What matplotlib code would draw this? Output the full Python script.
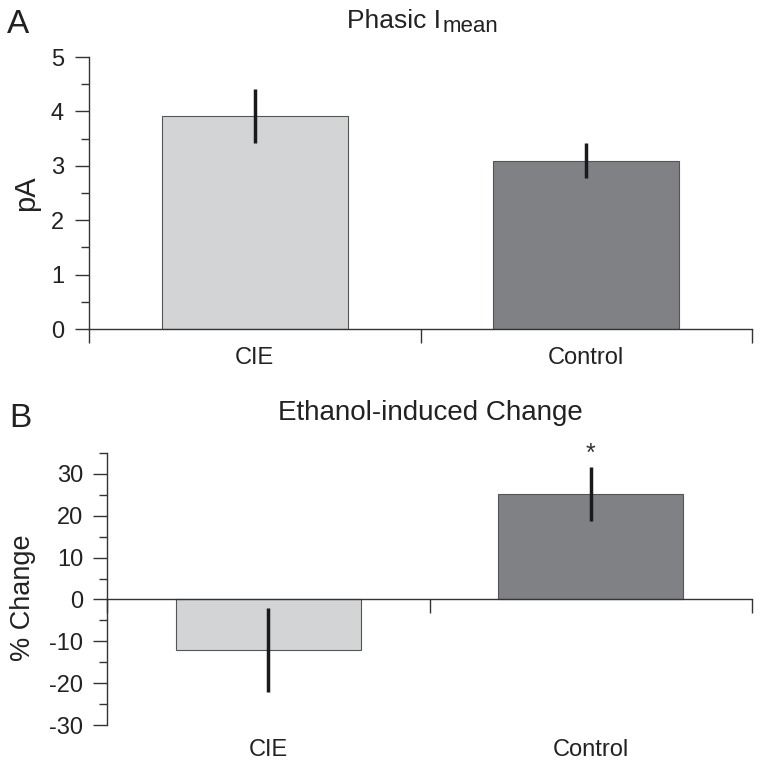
import matplotlib.pyplot as plt
from matplotlib.ticker import MultipleLocator

plt.rcParams['font.family'] = ['Liberation Sans', 'DejaVu Sans']
plt.rcParams['axes.unicode_minus'] = False

groups = ['CIE', 'Control']
phasic_mean = [3.92, 3.09]
phasic_sem = [0.50, 0.32]
change_mean = [-12.0, 25.2]
change_sem = [10.0, 6.4]
bar_colors = ['#d3d4d6', '#808184']

fig = plt.figure(figsize=(7.62, 7.66), dpi=100)
axA = fig.add_axes([89/762, 1 - 329/766, 663/762, 272/766])
axB = fig.add_axes([107/762, 1 - 725/766, 645/762, 272/766])

pos = [0.5, 1.5]


def style(ax, ymin, ymax, major, minor, ypad, lab_off):
    ax.set_xlim(0, 2)
    ax.set_ylim(ymin, ymax)
    for s in ['top', 'right']:
        ax.spines[s].set_visible(False)
    ax.spines['left'].set_linewidth(1.0)
    ax.spines['left'].set_color('#333333')
    ax.spines['bottom'].set_linewidth(1.0)
    ax.spines['bottom'].set_color('#333333')
    ax.spines['bottom'].set_position(('data', 0))
    ax.yaxis.set_major_locator(MultipleLocator(major))
    ax.yaxis.set_minor_locator(MultipleLocator(minor))
    ax.tick_params(axis='y', which='major', length=10, width=1.0, color='#333333',
                   labelsize=17, pad=ypad, labelcolor='#222222')
    ax.tick_params(axis='y', which='minor', length=6, width=1.0, color='#333333')
    ax.set_xticks([0, 1, 2])
    ax.set_xticklabels([])
    ax.tick_params(axis='x', which='major', length=10, width=1.0, color='#333333')
    for x, g in zip(pos, groups):
        ax.annotate(g, xy=(x, 0), xycoords=ax.get_xaxis_transform(),
                    xytext=(0, lab_off), textcoords='offset points',
                    ha='center', va='top', fontsize=17, color='#222222')


axA.bar(pos, phasic_mean, width=0.56, color=bar_colors, edgecolor='#555555',
        linewidth=0.8, zorder=2)
axA.errorbar(pos, phasic_mean, yerr=phasic_sem, fmt='none', ecolor='#1a1a1a',
             elinewidth=2.5, capsize=0, zorder=3)
style(axA, 0, 5, 1, 0.5, 8, -13)

axB.bar(pos, change_mean, width=0.575, color=bar_colors, edgecolor='#555555',
        linewidth=0.8, zorder=2)
axB.errorbar(pos, change_mean, yerr=change_sem, fmt='none', ecolor='#1a1a1a',
             elinewidth=2.5, capsize=0, zorder=3)
style(axB, -30, 35, 10, 5, 7, -10)
axB.set_yticks([-30, -20, -10, 0, 10, 20, 30])
axB.text(pos[1], change_mean[1] + change_sem[1] + 0.3, '*', ha='center',
         va='bottom', fontsize=18, color='#333333')

# y labels
fig.text(26/762, 1 - 193/766, 'pA', rotation=90, ha='center', va='center',
         fontsize=21, color='#222222')
fig.text(23/762, 1 - 598/766, '% Change', rotation=90, ha='center', va='center',
         fontsize=19.5, color='#222222')

# titles
fig.text(441/762, 1 - 28/766, 'Phasic I', ha='right', va='baseline',
         fontsize=19, color='#222222')
fig.text(443/762, 1 - 32/766, 'mean', ha='left', va='baseline',
         fontsize=16, color='#222222')
fig.text(430/762, 1 - 420/766, 'Ethanol-induced Change', ha='center',
         va='baseline', fontsize=20, color='#222222')

fig.text(7/762, 1 - 33/766, 'A', ha='left', va='baseline', fontsize=24, color='#222222')
fig.text(9/762, 1 - 427/766, 'B', ha='left', va='baseline', fontsize=24, color='#222222')

fig.savefig('out.png', dpi=100)
